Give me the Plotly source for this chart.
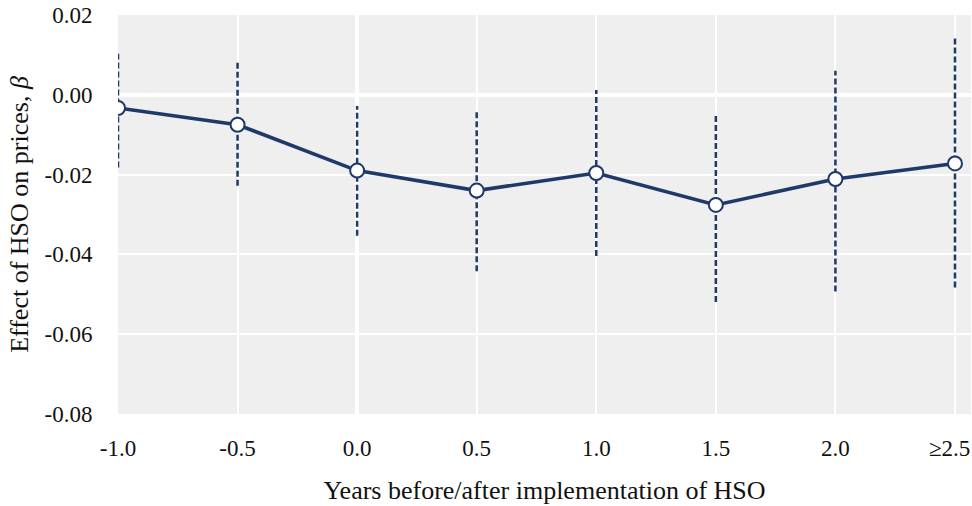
import plotly.graph_objects as go

x_vals = [-1.0, -0.5, 0.0, 0.5, 1.0, 1.5, 2.0, 2.5]
tick_labels = ["-1.0", "-0.5", "0.0", "0.5", "1.0", "1.5", "2.0", "≥2.5"]
beta = [-0.0033, -0.0075, -0.0190, -0.0240, -0.0196, -0.0276, -0.0211, -0.0172]
ci_upper = [0.0103, 0.0081, -0.0028, -0.0036, 0.0012, -0.0047, 0.0060, 0.0141]
ci_lower = [-0.0182, -0.0228, -0.0353, -0.0442, -0.0404, -0.0519, -0.0493, -0.0483]
y_ticks = [0.02, 0.00, -0.02, -0.04, -0.06, -0.08]
y_tick_labels = ["0.02", "0.00", "-0.02", "-0.04", "-0.06", "-0.08"]

navy = "#1f3a68"
font_family = "Liberation Serif, Times New Roman, serif"

ex, ey = [], []
for xv, lo, hi in zip(x_vals, ci_lower, ci_upper):
    ex += [xv, xv, None]
    ey += [lo, hi, None]

fig = go.Figure()
fig.add_trace(go.Scatter(x=ex, y=ey, mode="lines",
                         line=dict(color=navy, width=2.5, dash="6px,3px"),
                         hoverinfo="skip", showlegend=False))
fig.add_trace(go.Scatter(x=x_vals, y=beta, mode="lines+markers",
                         line=dict(color=navy, width=3.6),
                         marker=dict(size=14, color="white", line=dict(color=navy, width=2)),
                         showlegend=False))

# last tick label drawn as annotation so it stays inside the page (as in the reference)
axis_ticktext = tick_labels[:-1] + [""]
fig.add_annotation(x=x_vals[-1], xref="x", y=0, yref="paper", yanchor="middle",
                   yshift=-34, xanchor="right", xshift=16, text=tick_labels[-1],
                   showarrow=False, font=dict(size=23, family=font_family, color="#111111"),
                   borderpad=0)

fig.update_layout(
    width=972, height=506,
    margin=dict(l=118, r=1, t=15, b=92),
    paper_bgcolor="white", plot_bgcolor="#efefef",
    font=dict(family=font_family, size=23, color="#111111"),
    xaxis=dict(range=[-1.0, 2.567], tickvals=x_vals, ticktext=axis_ticktext,
               showgrid=True, gridcolor="white", gridwidth=2,
               zeroline=True, zerolinecolor="white", zerolinewidth=4,
               ticks="outside", ticklen=13, tickcolor="rgba(0,0,0,0)",
               showline=False, automargin=False,
               title=dict(text="Years before/after implementation of HSO", standoff=21,
                          font=dict(size=26))),
    yaxis=dict(range=[-0.08, 0.02], tickvals=y_ticks, ticktext=y_tick_labels,
               showgrid=True, gridcolor="white", gridwidth=2,
               zeroline=True, zerolinecolor="white", zerolinewidth=4,
               ticks="outside", ticklen=20, tickcolor="rgba(0,0,0,0)",
               showline=False, automargin=False,
               title=dict(text="Effect of HSO on prices, <i>β</i>", standoff=8,
                          font=dict(size=26))),
)

fig.write_html("out.html", config={"displayModeBar": False},
               post_script="document.body.style.margin='0';document.body.style.overflow='hidden';")
